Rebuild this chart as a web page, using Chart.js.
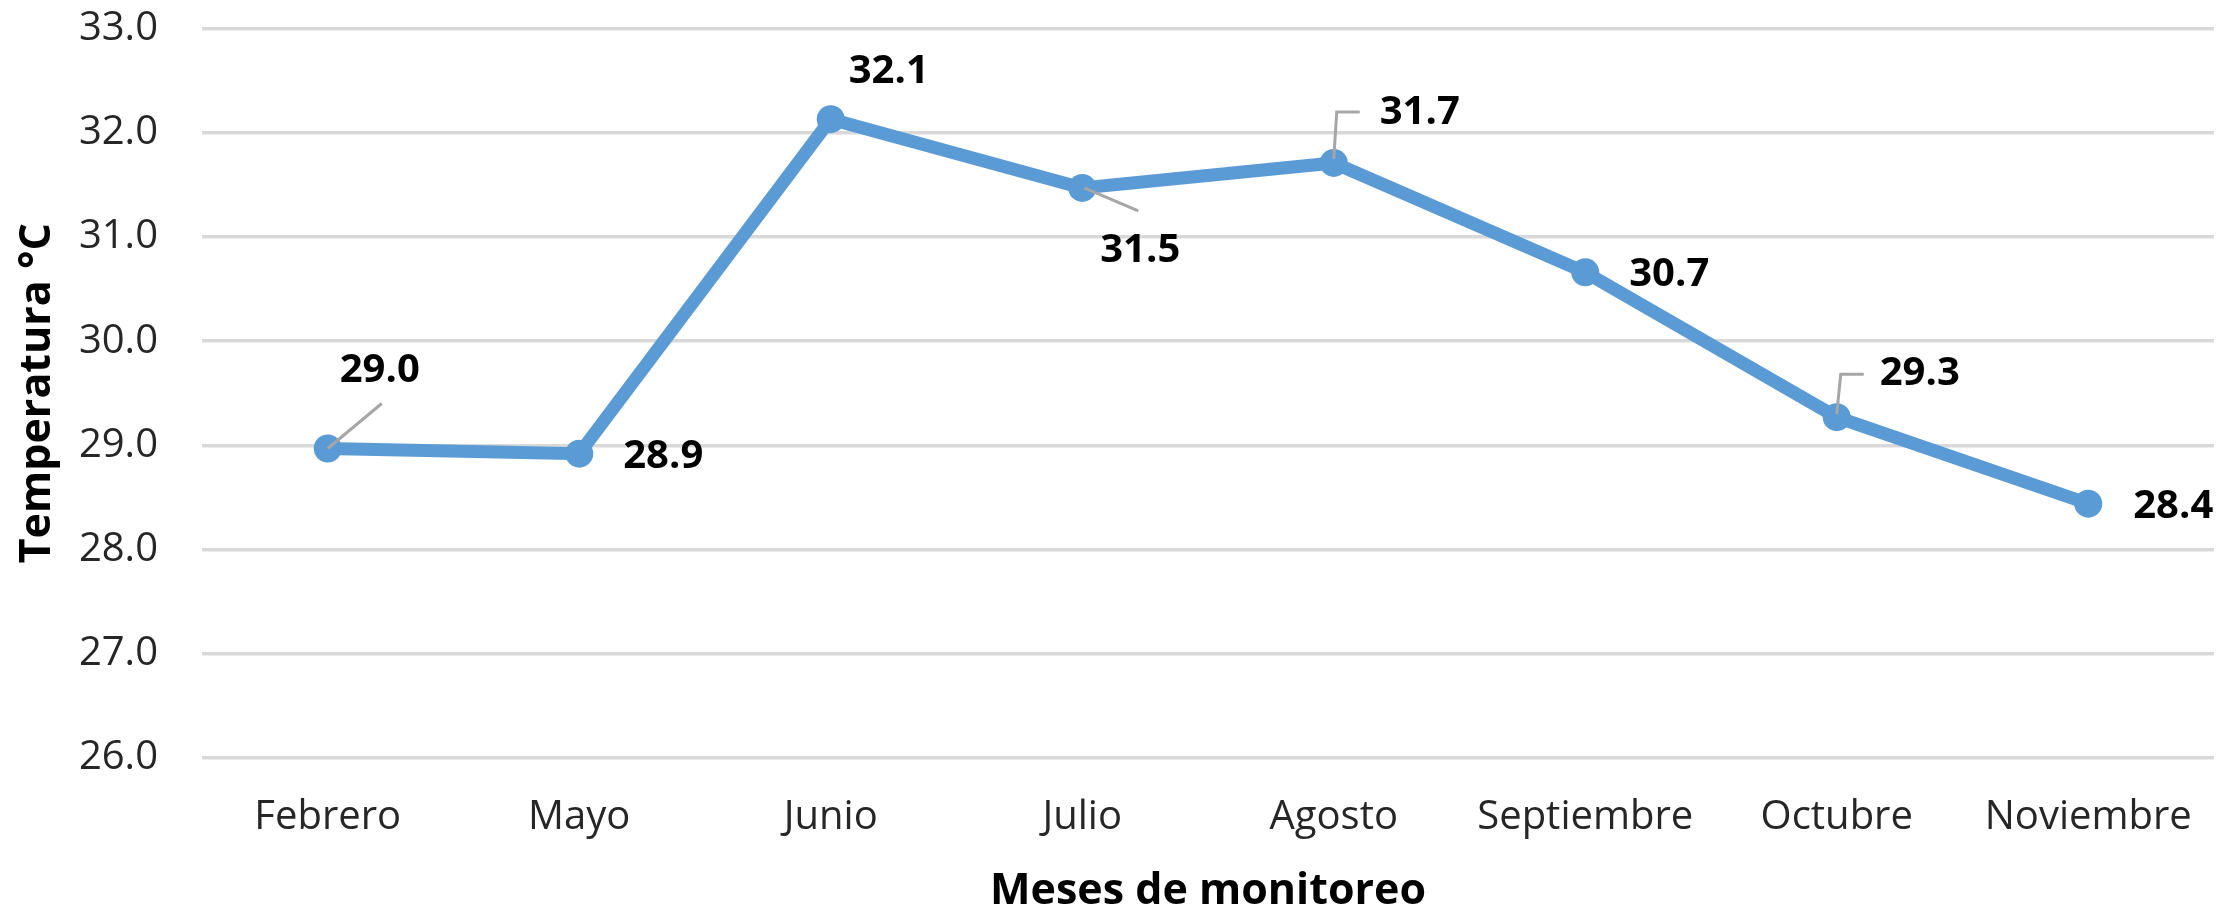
<!DOCTYPE html>
<html>
<head>
<meta charset="utf-8">
<script src="https://cdn.jsdelivr.net/npm/chart.js@4/dist/chart.umd.min.js"></script>
<style>
  html, body { margin: 0; padding: 0; background: #ffffff; }
  #wrap { width: 2233px; height: 913px; position: relative; }
</style>
</head>
<body>
<div id="wrap"><canvas id="c" width="2233" height="913"></canvas></div>
<script>
const categories = ["Febrero", "Mayo", "Junio", "Julio", "Agosto", "Septiembre", "Octubre", "Noviembre"];
const temperatures = [28.97, 28.92, 32.13, 31.47, 31.71, 30.66, 29.27, 28.44];
const yAxisTitle = "Temperatura °C";
const xAxisTitle = "Meses de monitoreo";
const yMin = 26;
const yMax = 33;
const yStep = 1;

const labelPlugin = {
  id: 'pointLabels',
  afterDatasetsDraw(chart, args, opts) {
    const ctx = chart.ctx;
    const meta = chart.getDatasetMeta(0);
    ctx.save();
    ctx.strokeStyle = opts.leaderColor;
    ctx.lineWidth = opts.leaderWidth;
    ctx.lineCap = 'butt';
    ctx.lineJoin = 'miter';
    meta.data.forEach((pt, i) => {
      const path = opts.leaders[i];
      if (!path) return;
      ctx.beginPath();
      path.forEach((p, k) => {
        if (k === 0) ctx.moveTo(pt.x + p[0], pt.y + p[1]);
        else ctx.lineTo(pt.x + p[0], pt.y + p[1]);
      });
      ctx.stroke();
    });
    ctx.fillStyle = opts.color;
    ctx.font = opts.font;
    ctx.textAlign = 'center';
    ctx.textBaseline = 'middle';
    meta.data.forEach((pt, i) => {
      const off = opts.offsets[i];
      const v = chart.data.datasets[0].data[i];
      ctx.fillText(v.toFixed(1), pt.x + off[0], pt.y + off[1]);
    });
    ctx.restore();
  }
};

new Chart(document.getElementById('c'), {
  type: 'line',
  data: {
    labels: categories,
    datasets: [{
      data: temperatures,
      borderColor: '#5b9bd5',
      backgroundColor: '#5b9bd5',
      borderWidth: 13,
      pointRadius: 14,
      pointHoverRadius: 14,
      pointBorderWidth: 0,
      pointBackgroundColor: '#5b9bd5',
      tension: 0,
      fill: false
    }]
  },
  options: {
    responsive: false,
    animation: false,
    devicePixelRatio: 1,
    layout: { padding: { left: 0, right: 19, top: 28.5, bottom: 0 } },
    plugins: {
      legend: { display: false },
      tooltip: { enabled: false },
      pointLabels: {
        color: '#000000',
        font: 'bold 40px "Open Sans"',
        leaderColor: '#a6a6a6',
        leaderWidth: 3,
        offsets: [[52, -78], [84, 3], [58, -48], [58, 63], [86, -50], [84, 2], [83, -44], [85, 3]],
        leaders: [
          [[0, 0], [54, -45]],
          null,
          null,
          [[2, 0], [56, 23]],
          [[0, -4], [3, -51], [26, -51]],
          null,
          [[0, -3], [4, -43], [27, -43]],
          null
        ]
      }
    },
    scales: {
      x: {
        offset: true,
        grid: { display: false, drawTicks: false },
        border: { display: false },
        ticks: {
          color: '#262626',
          font: { family: 'Open Sans', size: 40 },
          padding: 35.5,
          maxRotation: 0,
          autoSkip: false
        },
        title: {
          display: true,
          text: xAxisTitle,
          color: '#000000',
          font: { family: 'Open Sans', size: 43, weight: 'bold', lineHeight: 1.0 },
          padding: { top: 0, bottom: 0 }
        },
        afterFit(scale) { scale.height = 913 - 758; scale.paddingLeft = 0; scale.paddingRight = 0; }
      },
      y: {
        min: yMin,
        max: yMax,
        grid: { color: '#d9d9d9', lineWidth: 3.5, drawTicks: false },
        border: { display: false },
        ticks: {
          stepSize: yStep,
          color: '#262626',
          font: { family: 'Open Sans', size: 40 },
          padding: 44,
          callback: (v) => Number(v).toFixed(1)
        },
        title: {
          display: true,
          text: yAxisTitle,
          color: '#000000',
          font: { family: 'Open Sans', size: 43, weight: 'bold' },
          padding: { top: 12, bottom: 0 }
        },
        afterFit(scale) { scale.width = 202; scale.paddingTop = 0; scale.paddingBottom = 0; }
      }
    }
  },
  plugins: [labelPlugin]
});
</script>
</body>
</html>
